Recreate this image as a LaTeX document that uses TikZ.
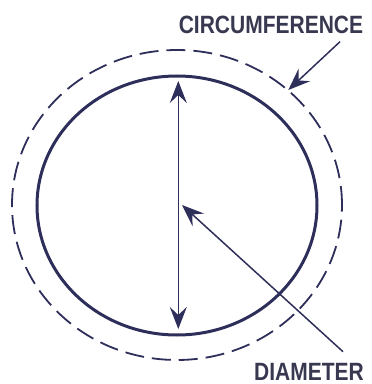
\documentclass[tikz,border=0pt]{standalone}
\usepackage{fontspec}
\usetikzlibrary{arrows.meta}
\newfontfamily\labelfont[FakeStretch=0.84]{Liberation Sans}
\definecolor{navy}{RGB}{46,46,90}
\definecolor{labelgray}{RGB}{56,56,80}
\tikzset{
  tip/.tip={Stealth[length=22pt,width=17pt,inset=8pt]},
  solidring/.style={draw=navy,line width=3pt},
  dashring/.style={draw=navy,line width=1.8pt,dash pattern=on 19pt off 8pt},
  pointer/.style={draw=navy,line width=1.5pt,-tip},
  lbl/.style={inner sep=0pt,text=labelgray,font=\labelfont\bfseries\fontsize{25}{25}\selectfont}
}
\begin{document}
\begin{tikzpicture}[x=1pt,y=1pt]
\useasboundingbox (0,0) rectangle (372,384);
% rings
\draw[dashring] (177,179) ellipse [x radius=165, y radius=155];
\draw[solidring] (177,178.5) ellipse [x radius=140, y radius=129.5];
% coordinates
\coordinate (topTip) at (178.3,303);
\coordinate (botTip) at (178.3,55);
\coordinate (centre) at (182,179);
\coordinate (circTip) at (288.3,294);
% labels
\node[lbl] (circ) at (271,359) {CIRCUMFERENCE};
\node[lbl] (diam) at (309,12.5) {DIAMETER};
\coordinate (circTail) at (340,342.3);
\coordinate (diamTail) at (343,32.3);
% arrows
\draw[pointer,tip-tip] (botTip) -- (topTip);
\draw[pointer] (diamTail) -- (centre);
\draw[pointer] (circTail) -- (circTip);
\end{tikzpicture}
\end{document}
